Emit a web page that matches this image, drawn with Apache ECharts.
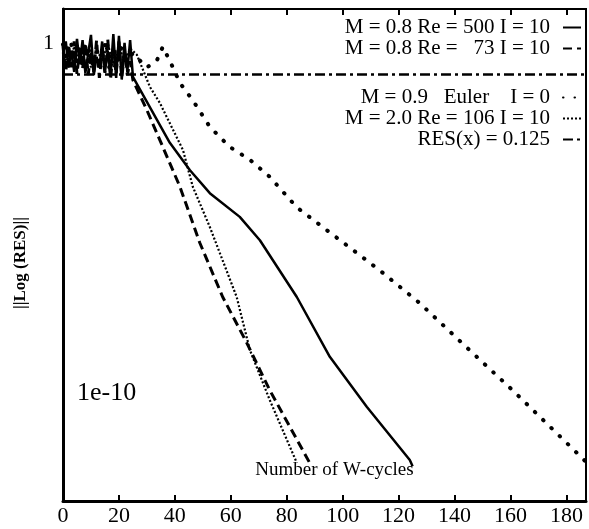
<!DOCTYPE html>
<html>
<head>
<meta charset="utf-8">
<script src="https://cdn.jsdelivr.net/npm/echarts@6/dist/echarts.min.js"></script>
<style>
html, body { margin: 0; padding: 0; background: #fff; }
#chart { width: 589px; height: 529px; }
</style>
</head>
<body>
<div id="chart"></div>
<script>
/*----- data S ------*/
var xTicks = [0, 20, 40, 60, 80, 100, 120, 140, 160, 180];
var seriesNames = ['M = 0.8 Re = 500 I = 10', 'M = 0.8 Re =   73 I = 10', 'M = 0.9   Euler    I = 0',
	'M = 2.0 Re = 106 I = 10', 'RES(x) = 0.125'];

// [W-cycle, residual]
var re500 = [[0,0.5],[1,1.1],[2,0.2],[3,0.6],[4,0.15],[5,1.3],[6,0.25],[7,1.2],[8,0.14],[9,0.5],[10,1.7],
	[11,0.12],[12,0.4],[13,0.2],[14,1.1],[15,0.15],[16,0.6],[17,0.12],[18,1.8],[19,0.1],[20,1.6],[21,0.09],
	[22,1.0],[23,0.15],[24,1.2],[25,0.107],[31,0.015],[38.2,1.4e-3],[45.4,2.3e-4],[52.5,5.1e-5],[63.2,1.07e-5],
	[70.4,2.3e-6],[83.6,5.5e-8],[95.4,1.07e-9],[108.6,4e-11],[124,1.2e-12],[125,8e-13]];
var re73 = [[0,0.8],[1,0.15],[2,0.9],[3,0.2],[4,1.1],[5,0.13],[6,0.7],[7,0.18],[8,1.0],[9,0.12],[10,0.6],
	[11,0.15],[12,1.2],[13,0.1],[14,0.5],[15,0.14],[16,1.3],[17,0.09],[18,0.7],[19,0.13],[20,1.1],[21,0.1],
	[22,0.5],[23,0.12],[24,0.3],[25,0.087],[30,0.012],[34.6,1.7e-3],[41.8,7.8e-5],[48.9,1.95e-6],[57.1,5.5e-8],
	[65.7,2.7e-9],[73.9,1.2e-10],[88.2,1e-12]];
var euler = [[0,0.9],[1.5,0.3],[3,0.9],[4.5,0.25],[6,0.7],[7.5,0.3],[9,0.8],[10.5,0.2],[12,0.6],[13.5,0.25],
	[15,0.9],[16.5,0.2],[18,0.7],[19.5,0.3],[21,0.8],[22.5,0.35],[25,0.5],[30,0.2],[33.6,0.32],[35.7,0.78],
	[39.3,0.2],[41.8,0.072],[46.4,0.023],[52.5,4e-3],[59.6,1.07e-3],[66.8,4.6e-4],[73.9,1.5e-4],[83.6,2e-5],
	[113.2,3.2e-7],[127.5,3.7e-8],[144.3,2e-9],[160.7,1.2e-10],[176.4,7.2e-12],[187,1.07e-12]];
var re106 = [[0,0.6],[2,0.2],[4,0.8],[6,0.25],[8,0.9],[10,0.2],[12,0.7],[14,0.3],[16,1.0],[18,0.2],[20,0.8],
	[22,0.3],[24,0.7],[26.4,0.46],[31.1,0.055],[34.6,0.0195],[42.9,8.7e-4],[46.4,7.8e-5],[52.5,5.5e-6],
	[62.1,5.5e-8],[66.8,1.7e-9],[73.9,6.3e-11],[83.6,1e-12]];
var resLine = [[0,0.125],[187,0.125]];
/*----- data E ------*/

var serif = 'Liberation Serif';
var yMin = Math.pow(10, -13.09);
var yMax = Math.pow(10, 0.97);

function isDecade(v, p){
	return Math.abs(Math.log(v) / Math.LN10 - p) < 0.01;
}

function lineSeries(name, data, lineStyle){
	return {
		name: name,
		type: 'line',
		data: data,
		symbol: 'none',
		smooth: false,
		lineStyle: lineStyle,
		itemStyle: { color: '#000' }
	};
}

function legendBox(top, names){
	return {
		orient: 'vertical',
		right: 2,
		top: top,
		align: 'right',
		itemWidth: 18,
		itemHeight: 14,
		itemGap: 0,
		itemStyle: { opacity: 0 },
		data: names,
		formatter: function(name){ return '{t|' + name + '}'; },
		textStyle: {
			fontFamily: serif,
			fontSize: 21,
			lineHeight: 19,
			color: '#000',
			rich: { t: { fontFamily: serif, fontSize: 21, lineHeight: 19, color: '#000', padding: [0, 8, 0, 0] } }
		}
	};
}

var option = {
	animation: false,
	backgroundColor: '#fff',
	grid: {
		left: 63,
		right: 2,
		top: 9,
		bottom: 28,
		show: true,
		borderColor: '#000',
		borderWidth: 2
	},
	legend: [
		legendBox(12, [seriesNames[0], seriesNames[1]]),
		legendBox(82, [seriesNames[2], seriesNames[3], seriesNames[4]])
	],
	xAxis: [
		{
			type: 'value',
			min: 0,
			max: 187,
			interval: 20,
			name: 'Number of W-cycles',
			nameLocation: 'middle',
			nameGap: -31,
			nameTextStyle: { fontFamily: serif, fontSize: 19, color: '#000', verticalAlign: 'middle', padding: [0, 0, 0, 20] },
			axisLine: { lineStyle: { color: '#000', width: 3 } },
			axisTick: { inside: true, length: 6, lineStyle: { color: '#000', width: 2 } },
			axisLabel: {
				margin: 4,
				fontFamily: serif,
				fontSize: 22,
				color: '#000',
				formatter: function(v){ return xTicks.indexOf(v) >= 0 ? String(v) : ''; }
			},
			splitLine: { show: false }
		},
		{
			type: 'value',
			position: 'top',
			min: 0,
			max: 187,
			interval: 20,
			axisLine: { lineStyle: { color: '#000', width: 2 } },
			axisTick: { inside: true, length: 6, lineStyle: { color: '#000', width: 2 } },
			axisLabel: { show: false },
			splitLine: { show: false }
		}
	],
	yAxis: [
		{
			type: 'log',
			logBase: 10,
			min: yMin,
			max: yMax,
			name: '||Log (RES)||',
			nameLocation: 'middle',
			nameGap: 34,
			nameRotate: 90,
			nameTextStyle: { fontFamily: serif, fontSize: 17, fontWeight: 'bold', color: '#000', padding: [0, 16, 0, 0] },
			axisLine: { lineStyle: { color: '#000', width: 3 } },
			axisTick: { show: false },
			axisLabel: {
				margin: 9,
				fontFamily: serif,
				fontSize: 22,
				color: '#000',
				formatter: function(v){ return isDecade(v, 0) ? '1' : ''; }
			},
			splitLine: { show: false }
		},
		{
			type: 'log',
			logBase: 10,
			position: 'left',
			min: yMin,
			max: yMax,
			axisLine: { show: false },
			axisTick: { show: false },
			axisLabel: {
				inside: true,
				margin: 14,
				fontFamily: serif,
				fontSize: 26,
				color: '#000',
				formatter: function(v){ return isDecade(v, -10) ? '1e-10' : ''; }
			},
			splitLine: { show: false }
		}
	],
	series: [
		lineSeries(seriesNames[0], re500, { color: '#000', width: 2.5 }),
		lineSeries(seriesNames[1], re73, { color: '#000', width: 3, type: [9, 5] }),
		lineSeries(seriesNames[2], euler, { color: '#000', width: 4, type: [0.5, 11], cap: 'round' }),
		lineSeries(seriesNames[3], re106, { color: '#000', width: 2.2, type: [2, 2] }),
		lineSeries(seriesNames[4], resLine, { color: '#000', width: 2.5, type: [10, 4, 3, 4] })
	]
};
echarts.init(document.getElementById('chart')).setOption(option, true);
</script>
</body>
</html>
